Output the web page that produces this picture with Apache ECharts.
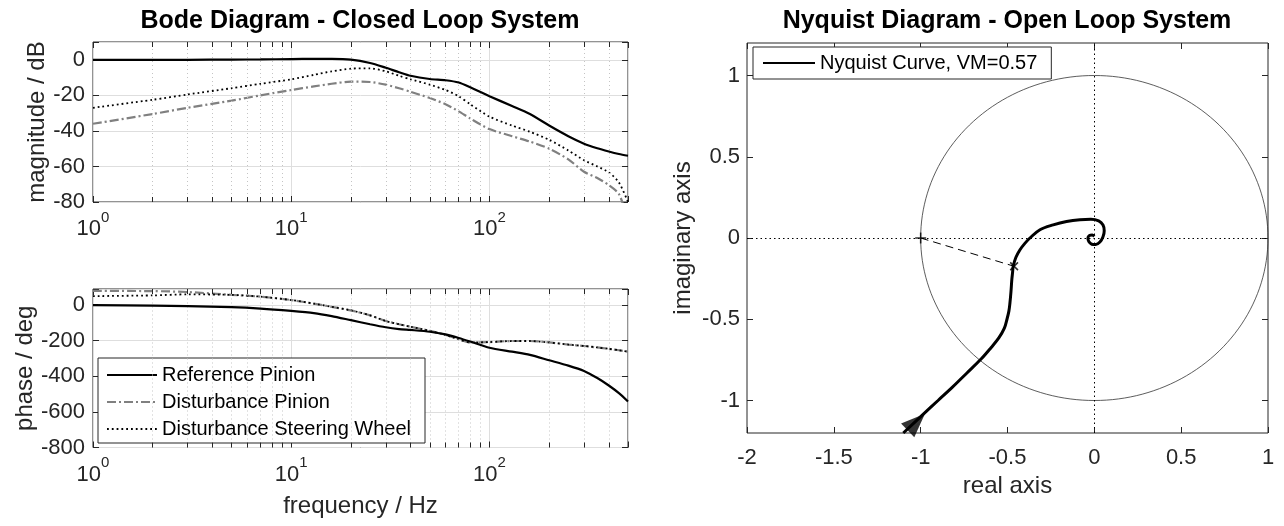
<!DOCTYPE html>
<html>
<head>
<meta charset="utf-8">
<title>Bode / Nyquist</title>
<script src="https://cdn.jsdelivr.net/npm/echarts@6/dist/echarts.min.js"></script>
<style>
  html, body { margin: 0; padding: 0; background: #fff; }
  #app { width: 1284px; height: 526px; }
</style>
</head>
<body>
<div id="app"></div>
<script>
// frequency points of the Bode plots (Hz)
var freq = [1, 2, 3, 5, 7, 10, 13, 16, 20, 25, 30, 35, 40, 50, 60, 70, 80, 100, 130, 160, 200, 250, 300, 350, 400, 450, 500];
// magnitude / dB
var magRef = [0, 0, 0, 0.1, 0.2, 0.4, 0.5, 0.5, 0.1, -1.8, -4.5, -7, -9, -10.8, -11.5, -12.8, -15.5, -20.5, -26, -30.5, -37, -43, -47.2, -49.8, -51.6, -53, -54];
var magDistPinion = [-36, -30.5, -27, -23, -20, -17, -15, -13.5, -12.3, -12.5, -14, -16, -18, -21.5, -25, -29, -33, -39, -43, -46, -50, -56, -63, -66.5, -70.5, -75.5, -90];
var magDistWheel = [-27, -22.5, -19.5, -16, -13.5, -11, -8.5, -6.5, -5, -4.8, -6.5, -9, -11, -14, -17, -20.5, -25, -32, -37, -40.5, -45, -51, -56.5, -60, -63.3, -69, -80];
// phase / deg
var phRef = [0, -3, -6, -12, -20, -33, -45, -62, -85, -108, -125, -135, -140, -150, -165, -185, -205, -240, -262, -280, -310, -340, -370, -410, -452, -495, -542];
var phDistPinion = [80, 78, 73, 57, 47, 28, 8, -10, -30, -58, -90, -108, -122, -145, -168, -192, -210, -208, -202, -202, -210, -222, -230, -238, -246, -254, -262];
var phDistWheel = [50, 54, 60, 57, 47, 28, 8, -10, -30, -58, -90, -108, -122, -145, -168, -192, -210, -208, -202, -202, -210, -222, -230, -238, -246, -254, -262];
var minorFreq = [2, 3, 4, 5, 6, 7, 8, 9, 20, 30, 40, 50, 60, 70, 80, 90, 200, 300, 400];

// Nyquist curve of the open loop (real / imaginary part)
var nyqRe = [-1.10, -0.983, -0.90, -0.817, -0.735, -0.652, -0.595, -0.55, -0.518, -0.503, -0.492, -0.486, -0.480, -0.475, -0.471, -0.467, -0.452, -0.428, -0.40, -0.371, -0.313, -0.237, -0.160, -0.083, -0.02, 0.025, 0.050, 0.057, 0.050, 0.032, 0.008, -0.015, -0.032, -0.037, -0.028, -0.012, 0.0];
var nyqIm = [-1.20, -1.082, -1.0, -0.918, -0.832, -0.745, -0.675, -0.615, -0.555, -0.50, -0.45, -0.40, -0.33, -0.255, -0.215, -0.174, -0.12, -0.072, -0.033, 0.0, 0.051, 0.081, 0.102, 0.113, 0.115, 0.105, 0.08, 0.045, 0.008, -0.025, -0.04, -0.038, -0.022, 0.0, 0.015, 0.018, 0.01];
var criticalPoint = [-1, 0];
var vmPoint = [-0.462, -0.174];
var vmValue = 0.57;
var arrowPoint = [-1.025, -1.133];
var nyqYTicks = [-1, -0.5, 0, 0.5, 1];

var FONT = '"Liberation Sans", Arial, Helvetica, sans-serif';
var INK = '#262626';
var MAJOR = '#dedede';
var MINOR = '#c4c4c4';
var MAG = [-80, 10];
var PH = [-800, 90];

function pairs(xs, ys) {
    return xs.map(function (x, i) { return [x, ys[i]]; });
}

function isDecade(v) {
    var l = Math.log10(v);
    return Math.abs(l - Math.round(l)) < 1e-6;
}

// unit circle, drawn through the axes
var unitCircle = [];
for (var a = 0; a <= 360; a += 2) {
    unitCircle.push([Math.cos(a * Math.PI / 180), Math.sin(a * Math.PI / 180)]);
}

function minorTicks(range, px) {
    var len = (range[1] - range[0]) * 5 / px;
    var out = [];
    minorFreq.forEach(function (f) {
        out.push([{ coord: [f, range[0]] }, { coord: [f, range[0] + len] }]);
        out.push([{ coord: [f, range[1]] }, { coord: [f, range[1] - len] }]);
    });
    return out;
}

var labelStyle = { fontSize: 22, color: INK, fontFamily: FONT };
var nameStyle = { fontSize: 24, color: INK, fontFamily: FONT };
var tickStyle = { inside: true, length: 6, lineStyle: { color: INK, width: 1 } };

function logAxis(grid, pos, show, name) {
    return {
        type: 'log', logBase: 10, gridIndex: grid, min: 1, max: 500, position: pos,
        axisLine: { show: false, onZero: false },
        axisTick: tickStyle,
        axisLabel: {
            show: show, margin: 8,
            formatter: function (v) {
                return isDecade(v) ? '{b|10}{s|' + Math.round(Math.log10(v)) + '}' : '';
            },
            rich: {
                b: { fontSize: 22, color: INK, fontFamily: FONT, padding: [8, 0, 0, 0], verticalAlign: 'bottom' },
                s: { fontSize: 15, color: INK, fontFamily: FONT, verticalAlign: 'top' }
            }
        },
        splitLine: { show: pos === 'bottom', lineStyle: { color: MAJOR, width: 1 } },
        name: name || '', nameLocation: 'middle', nameGap: 47, nameTextStyle: nameStyle
    };
}

function valAxis(grid, pos, range, step, show, name, gap) {
    return {
        type: 'value', gridIndex: grid, position: pos, min: range[0], max: range[1], interval: step,
        axisLine: { show: false, onZero: false },
        axisTick: tickStyle,
        axisLabel: Object.assign({
            show: show, margin: 8,
            formatter: function (v) { return (Math.abs(v / step - Math.round(v / step)) < 1e-6) ? String(v) : ''; }
        }, labelStyle),
        splitLine: { show: pos === 'left', lineStyle: { color: MAJOR, width: 1 } },
        name: name || '', nameLocation: 'middle', nameGap: gap || 38, nameTextStyle: nameStyle
    };
}

var nyqX = function (pos, show) {
    return {
        type: 'value', gridIndex: 2, position: pos, min: -2, max: 1, interval: 0.5,
        axisLine: { show: false, onZero: false },
        axisTick: tickStyle,
        axisLabel: Object.assign({ show: show, margin: 14 }, labelStyle),
        splitLine: { show: false },
        name: show ? 'real axis' : '', nameLocation: 'middle', nameGap: 39, nameTextStyle: nameStyle
    };
};
var nyqY = function (pos, show) {
    return {
        type: 'value', gridIndex: 2, position: pos, min: -1.2, max: 1.2,
        axisLine: { show: false, onZero: false },
        axisTick: Object.assign({ customValues: nyqYTicks }, tickStyle),
        axisLabel: Object.assign({ show: show, margin: 7, customValues: nyqYTicks }, labelStyle),
        splitLine: { show: false },
        name: show ? 'imaginary axis' : '', nameLocation: 'middle', nameGap: 52, nameTextStyle: nameStyle
    };
};

var blackSolid = { color: '#000', width: 2.2, type: 'solid' };
var greyDashDot = { color: '#808080', width: 2.2, type: [9, 3, 2, 3] };
var blackDotted = { color: '#000', width: 1.8, type: [1.8, 3] };

function line(name, x, y, data, style, extra) {
    return Object.assign({
        type: 'line', name: name, xAxisIndex: x, yAxisIndex: y, data: data,
        showSymbol: false, symbol: 'none', lineStyle: style, itemStyle: { color: style.color },
        silent: true, animation: false
    }, extra || {});
}

var plusPath = 'path://M0,4.3H10V5.7H0Z M4.3,0H5.7V10H4.3Z';

var legendBase = {
    orient: 'vertical', selectedMode: false, itemHeight: 14,
    itemStyle: { opacity: 0 },
    backgroundColor: '#fff', borderColor: INK, borderWidth: 1, borderRadius: 0,
    textStyle: { fontSize: 20, color: '#000', fontFamily: FONT, lineHeight: 22 }
};

var option = {
    animation: false,
    backgroundColor: '#fff',
    textStyle: { fontFamily: FONT },
    title: [
        { text: 'Bode Diagram - Closed Loop System', left: 360, top: 9, textAlign: 'center', padding: 0,
          textStyle: { fontSize: 25, fontWeight: 'bold', color: '#000', fontFamily: FONT } },
        { text: 'Nyquist Diagram - Open Loop System', left: 1007, top: 9, textAlign: 'center', padding: 0,
          textStyle: { fontSize: 25, fontWeight: 'bold', color: '#000', fontFamily: FONT } }
    ],
    legend: [
        Object.assign({}, legendBase, {
            data: ['Reference Pinion', 'Disturbance Pinion', 'Disturbance Steering Wheel'],
            left: 98, top: 358, padding: [6, 14, 3, 8], itemGap: 5, itemWidth: 50
        }),
        Object.assign({}, legendBase, {
            data: ['Nyquist Curve, VM=' + vmValue.toFixed(2)],
            left: 753, top: 47, padding: [5, 14, 5, 9], itemWidth: 52
        })
    ],
    grid: [
        { left: 93, top: 42, width: 535, height: 160, show: true, borderColor: INK, borderWidth: 1, backgroundColor: '#fff', outerBoundsMode: 'none', containLabel: false },
        { left: 93, top: 289, width: 535, height: 158.5, show: true, borderColor: INK, borderWidth: 1, backgroundColor: '#fff', outerBoundsMode: 'none', containLabel: false },
        { left: 747, top: 43, width: 521, height: 390, show: true, borderColor: INK, borderWidth: 1, backgroundColor: '#fff', outerBoundsMode: 'none', containLabel: false }
    ],
    xAxis: [
        logAxis(0, 'bottom', true),
        logAxis(0, 'top', false),
        logAxis(1, 'bottom', true, 'frequency / Hz'),
        logAxis(1, 'top', false),
        nyqX('bottom', true),
        nyqX('top', false)
    ],
    yAxis: [
        valAxis(0, 'left', MAG, 20, true, 'magnitude / dB'),
        valAxis(0, 'right', MAG, 20, false),
        valAxis(1, 'left', PH, 200, true, 'phase / deg'),
        valAxis(1, 'right', PH, 200, false),
        nyqY('left', true),
        nyqY('right', false)
    ],
    series: [
        // magnitude
        line('Reference Pinion', 0, 0, pairs(freq, magRef), blackSolid, {
            z: 5, smooth: 0.25,
            markLine: { silent: true, symbol: ['none', 'none'], label: { show: false }, animation: false,
                lineStyle: { color: MINOR, width: 1, type: [1, 3] },
                data: minorFreq.map(function (f) { return { xAxis: f }; }) }
        }),
        line('Disturbance Pinion', 0, 0, pairs(freq, magDistPinion), greyDashDot, {
            z: 4, smooth: 0.25,
            markLine: { silent: true, symbol: ['none', 'none'], label: { show: false }, animation: false,
                lineStyle: { color: INK, width: 1, type: 'solid' }, data: minorTicks(MAG, 160) }
        }),
        line('Disturbance Steering Wheel', 0, 0, pairs(freq, magDistWheel), blackDotted, { z: 4, smooth: 0.25 }),
        // phase
        line('Reference Pinion', 2, 2, pairs(freq, phRef), blackSolid, {
            z: 5, smooth: 0.25,
            markLine: { silent: true, symbol: ['none', 'none'], label: { show: false }, animation: false,
                lineStyle: { color: MINOR, width: 1, type: [1, 3] },
                data: minorFreq.map(function (f) { return { xAxis: f }; }) }
        }),
        line('Disturbance Pinion', 2, 2, pairs(freq, phDistPinion), greyDashDot, {
            z: 4, smooth: 0.25,
            markLine: { silent: true, symbol: ['none', 'none'], label: { show: false }, animation: false,
                lineStyle: { color: INK, width: 1, type: 'solid' }, data: minorTicks(PH, 158.5) }
        }),
        line('Disturbance Steering Wheel', 2, 2, pairs(freq, phDistWheel), blackDotted, { z: 4, smooth: 0.25 }),
        // nyquist
        line('unit circle', 4, 4, unitCircle, { color: '#333', width: 0.8, type: 'solid' }, {
            z: 2,
            markLine: { silent: true, symbol: ['none', 'none'], label: { show: false }, animation: false,
                lineStyle: { color: '#000', width: 1, type: [1.5, 3] },
                data: [{ xAxis: 0 }, { yAxis: 0 }] }
        }),
        line('vm', 4, 4, [criticalPoint, vmPoint], { color: '#000', width: 1, type: [8, 5] }, { z: 3 }),
        line('Nyquist Curve, VM=' + vmValue.toFixed(2), 4, 4, pairs(nyqRe, nyqIm), { color: '#000', width: 3, type: 'solid' }, { z: 5, smooth: 0.35 }),
        { type: 'scatter', name: 'critical', xAxisIndex: 4, yAxisIndex: 4, data: [criticalPoint],
          symbol: plusPath, symbolSize: 11, itemStyle: { color: '#000' }, silent: true, z: 6 },
        { type: 'scatter', name: 'vm point', xAxisIndex: 4, yAxisIndex: 4, data: [vmPoint],
          symbol: plusPath, symbolSize: 11, symbolRotate: 45, itemStyle: { color: '#000' }, silent: true, z: 6 },
        { type: 'scatter', name: 'arrow', xAxisIndex: 4, yAxisIndex: 4, data: [arrowPoint],
          symbol: 'triangle', symbolSize: [19, 24], symbolRotate: -46, itemStyle: { color: '#000' }, silent: true, z: 6 }
    ]
};

var chart = echarts.init(document.getElementById('app'), null, { renderer: 'canvas' });
chart.setOption(option);
</script>
</body>
</html>
